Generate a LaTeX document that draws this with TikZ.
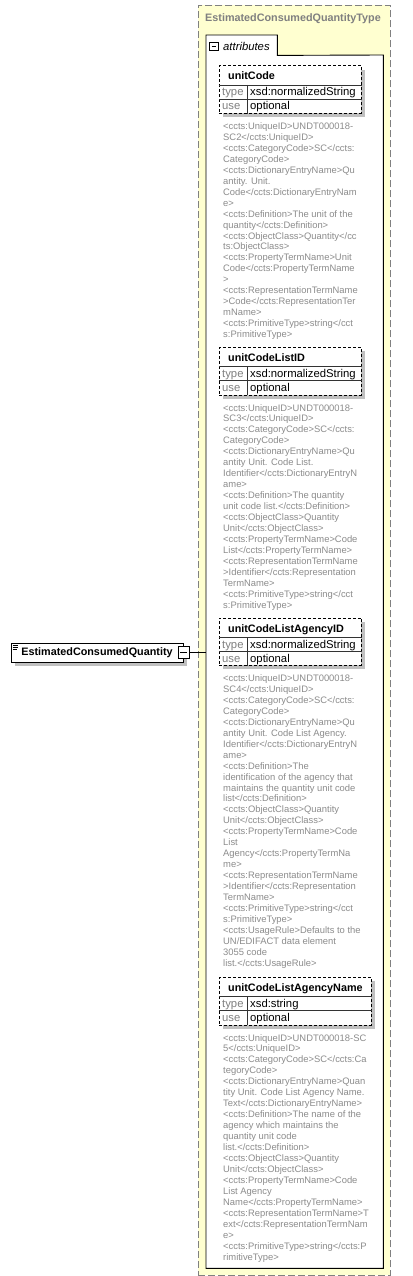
\documentclass[tikz,border=0pt]{standalone}
\usepackage{fontspec}
\setmainfont{Liberation Sans}
\usetikzlibrary{positioning,shadows}
\definecolor{typefill}{HTML}{FFFFD0}
\definecolor{typeline}{HTML}{808080}
\definecolor{notegray}{HTML}{8C8C8C}
\definecolor{shadegray}{HTML}{C0C0C0}
\begin{document}
\begin{tikzpicture}[
	x=1pt, y=-1pt,
	typebox/.style={draw=typeline, line width=0.9pt, dash pattern=on 7pt off 3pt, fill=typefill, anchor=north west, inner sep=0pt},
	typename/.style={anchor=base west, inner sep=0pt, text=typeline, font=\fontsize{10.8}{13}\selectfont\bfseries},
	groupbox/.style={fill=white, anchor=north west, inner sep=0pt},
	groupline/.style={draw=black, line width=0.9pt},
	grouplabel/.style={anchor=base west, inner sep=0pt, font=\fontsize{11.3}{13}\selectfont\itshape},
	toggle/.style={draw=black, fill=white, inner sep=0pt, line width=0.6pt, path picture={\draw[line width=0.6pt] ([xshift=1.8pt]path picture bounding box.west) -- ([xshift=-1.8pt]path picture bounding box.east);}},
	attrbox/.style={draw=black, line width=0.7pt, dash pattern=on 3pt off 2pt, fill=white, anchor=north west, inner sep=0pt, minimum height=47.5pt, drop shadow={shadow xshift=4pt, shadow yshift=-4pt, fill=shadegray, opacity=1}},
	attrname/.style={anchor=base west, inner sep=0pt, font=\fontsize{10.8}{13}\selectfont\bfseries},
	rowkey/.style={anchor=base west, inner sep=0pt, text=typeline, font=\fontsize{11.3}{13}\selectfont},
	rowval/.style={anchor=base west, inner sep=0pt, font=\fontsize{11.3}{13}\selectfont},
	rowline/.style={draw=black!80, line width=0.6pt},
	note/.style={anchor=north west, inner sep=0pt, align=left, text=notegray, font=\fontsize{9.4}{10.95}\selectfont},
	elembox/.style={draw=black, fill=white, inner sep=0pt, line width=0.9pt, minimum width=172pt, minimum height=19pt, font=\fontsize{10.8}{13}\selectfont\bfseries, drop shadow={shadow xshift=4pt, shadow yshift=-4pt, fill=shadegray, opacity=1}}
]
\useasboundingbox (0,0) rectangle (412,1276);

\node[typebox, minimum width=192pt, minimum height=1270pt] (type) at (198,5) {};
\node[typename] (typetitle) at ([xshift=7pt,yshift=-16.5pt]type.north west) {EstimatedConsumedQuantityType};

\node[groupbox, minimum width=177pt, minimum height=1213pt] (group) at (206,55) {};
\node[groupbox, minimum width=71pt, minimum height=20pt] (grouptab) at (206,35) {};
\draw[groupline] (grouptab.south east) -- (group.north east) -- (group.south east) -- (group.south west) -- (grouptab.north west) -- (grouptab.north east) -- cycle;
\node[toggle, minimum size=8.5pt] (grouptoggle) at ([xshift=8pt,yshift=-11.5pt]grouptab.north west) {};
\node[grouplabel] (grouptitle) at ([xshift=17pt,yshift=-15.5pt]grouptab.north west) {attributes};

\node[elembox] (elem) at (97,652.5) {EstimatedConsumedQuantity};
\draw[line width=0.6pt] ([xshift=2pt,yshift=-2.5pt]elem.north west) -- ++(5,0)
	([xshift=2pt,yshift=-4.5pt]elem.north west) -- ++(5,0)
	([xshift=2pt,yshift=-6.5pt]elem.north west) -- ++(4,0);
\node[toggle, minimum width=11pt, minimum height=12pt] (elemtoggle) at (elem.east) {};
\draw[line width=0.8pt] (elemtoggle.east) -- (elemtoggle.east -| group.west);

% unitCode
\node[attrbox, minimum width=142pt] (unitcode) at (219,65.5) {};
\draw[rowline] ([yshift=-19.5pt]unitcode.north west) -- ([yshift=-19.5pt]unitcode.north east)
	([yshift=-33.5pt]unitcode.north west) -- ([yshift=-33.5pt]unitcode.north east)
	([xshift=28pt,yshift=-19.5pt]unitcode.north west) -- ([xshift=28pt]unitcode.south west);
\node[attrname] (unitcodename) at ([xshift=9pt,yshift=-14.5pt]unitcode.north west) {unitCode};
\node[rowkey] (unitcodetypekey) at ([xshift=3pt,yshift=-30.5pt]unitcode.north west) {type};
\node[rowval] (unitcodetype) at ([xshift=31pt,yshift=-30.5pt]unitcode.north west) {xsd:normalizedString};
\node[rowkey] (unitcodeusekey) at ([xshift=3pt,yshift=-44.5pt]unitcode.north west) {use};
\node[rowval] (unitcodeuse) at ([xshift=31pt,yshift=-44.5pt]unitcode.north west) {optional};
\node[note] (unitcodenote) at ([xshift=4pt,yshift=-8.8pt]unitcode.south west) {<ccts:UniqueID>UNDT000018-\\SC2</ccts:UniqueID>\\<ccts:CategoryCode>SC</ccts:\\CategoryCode>\\<ccts:DictionaryEntryName>Qu\\antity. Unit.\\Code</ccts:DictionaryEntryNam\\e>\\<ccts:Definition>The unit of the\\quantity</ccts:Definition>\\<ccts:ObjectClass>Quantity</cc\\ts:ObjectClass>\\<ccts:PropertyTermName>Unit\\Code</ccts:PropertyTermName\\>\\<ccts:RepresentationTermName\\>Code</ccts:RepresentationTer\\mName>\\<ccts:PrimitiveType>string</cct\\s:PrimitiveType>};

% unitCodeListID
\node[attrbox, minimum width=142pt] (listid) at (219,347) {};
\draw[rowline] ([yshift=-19.5pt]listid.north west) -- ([yshift=-19.5pt]listid.north east)
	([yshift=-33.5pt]listid.north west) -- ([yshift=-33.5pt]listid.north east)
	([xshift=28pt,yshift=-19.5pt]listid.north west) -- ([xshift=28pt]listid.south west);
\node[attrname] (listidname) at ([xshift=9pt,yshift=-14.5pt]listid.north west) {unitCodeListID};
\node[rowkey] (listidtypekey) at ([xshift=3pt,yshift=-30.5pt]listid.north west) {type};
\node[rowval] (listidtype) at ([xshift=31pt,yshift=-30.5pt]listid.north west) {xsd:normalizedString};
\node[rowkey] (listidusekey) at ([xshift=3pt,yshift=-44.5pt]listid.north west) {use};
\node[rowval] (listiduse) at ([xshift=31pt,yshift=-44.5pt]listid.north west) {optional};
\node[note] (listidnote) at ([xshift=4pt,yshift=-8.8pt]listid.south west) {<ccts:UniqueID>UNDT000018-\\SC3</ccts:UniqueID>\\<ccts:CategoryCode>SC</ccts:\\CategoryCode>\\<ccts:DictionaryEntryName>Qu\\antity Unit. Code List.\\Identifier</ccts:DictionaryEntryN\\ame>\\<ccts:Definition>The quantity\\unit code list.</ccts:Definition>\\<ccts:ObjectClass>Quantity\\Unit</ccts:ObjectClass>\\<ccts:PropertyTermName>Code\\List</ccts:PropertyTermName>\\<ccts:RepresentationTermName\\>Identifier</ccts:Representation\\TermName>\\<ccts:PrimitiveType>string</cct\\s:PrimitiveType>};

% unitCodeListAgencyID
\node[attrbox, minimum width=142pt] (agencyid) at (219,617.5) {};
\draw[rowline] ([yshift=-19.5pt]agencyid.north west) -- ([yshift=-19.5pt]agencyid.north east)
	([yshift=-33.5pt]agencyid.north west) -- ([yshift=-33.5pt]agencyid.north east)
	([xshift=28pt,yshift=-19.5pt]agencyid.north west) -- ([xshift=28pt]agencyid.south west);
\node[attrname] (agencyidname) at ([xshift=9pt,yshift=-14.5pt]agencyid.north west) {unitCodeListAgencyID};
\node[rowkey] (agencyidtypekey) at ([xshift=3pt,yshift=-30.5pt]agencyid.north west) {type};
\node[rowval] (agencyidtype) at ([xshift=31pt,yshift=-30.5pt]agencyid.north west) {xsd:normalizedString};
\node[rowkey] (agencyidusekey) at ([xshift=3pt,yshift=-44.5pt]agencyid.north west) {use};
\node[rowval] (agencyiduse) at ([xshift=31pt,yshift=-44.5pt]agencyid.north west) {optional};
\node[note] (agencyidnote) at ([xshift=4pt,yshift=-8.8pt]agencyid.south west) {<ccts:UniqueID>UNDT000018-\\SC4</ccts:UniqueID>\\<ccts:CategoryCode>SC</ccts:\\CategoryCode>\\<ccts:DictionaryEntryName>Qu\\antity Unit. Code List Agency.\\Identifier</ccts:DictionaryEntryN\\ame>\\<ccts:Definition>The\\identification of the agency that\\maintains the quantity unit code\\list</ccts:Definition>\\<ccts:ObjectClass>Quantity\\Unit</ccts:ObjectClass>\\<ccts:PropertyTermName>Code\\List\\Agency</ccts:PropertyTermNa\\me>\\<ccts:RepresentationTermName\\>Identifier</ccts:Representation\\TermName>\\<ccts:PrimitiveType>string</cct\\s:PrimitiveType>\\<ccts:UsageRule>Defaults to the\\UN/EDIFACT data element\\3055 code\\list.</ccts:UsageRule>};

% unitCodeListAgencyName
\node[attrbox, minimum width=152pt] (agencyname) at (219,977) {};
\draw[rowline] ([yshift=-19.5pt]agencyname.north west) -- ([yshift=-19.5pt]agencyname.north east)
	([yshift=-33.5pt]agencyname.north west) -- ([yshift=-33.5pt]agencyname.north east)
	([xshift=28pt,yshift=-19.5pt]agencyname.north west) -- ([xshift=28pt]agencyname.south west);
\node[attrname] (agencynamename) at ([xshift=9pt,yshift=-14.5pt]agencyname.north west) {unitCodeListAgencyName};
\node[rowkey] (agencynametypekey) at ([xshift=3pt,yshift=-30.5pt]agencyname.north west) {type};
\node[rowval] (agencynametype) at ([xshift=31pt,yshift=-30.5pt]agencyname.north west) {xsd:string};
\node[rowkey] (agencynameusekey) at ([xshift=3pt,yshift=-44.5pt]agencyname.north west) {use};
\node[rowval] (agencynameuse) at ([xshift=31pt,yshift=-44.5pt]agencyname.north west) {optional};
\node[note] (agencynamenote) at ([xshift=4pt,yshift=-8.8pt]agencyname.south west) {<ccts:UniqueID>UNDT000018-SC\\5</ccts:UniqueID>\\<ccts:CategoryCode>SC</ccts:Ca\\tegoryCode>\\<ccts:DictionaryEntryName>Quan\\tity Unit. Code List Agency Name.\\Text</ccts:DictionaryEntryName>\\<ccts:Definition>The name of the\\agency which maintains the\\quantity unit code\\list.</ccts:Definition>\\<ccts:ObjectClass>Quantity\\Unit</ccts:ObjectClass>\\<ccts:PropertyTermName>Code\\List Agency\\Name</ccts:PropertyTermName>\\<ccts:RepresentationTermName>T\\ext</ccts:RepresentationTermNam\\e>\\<ccts:PrimitiveType>string</ccts:P\\rimitiveType>};
\end{tikzpicture}
\end{document}
